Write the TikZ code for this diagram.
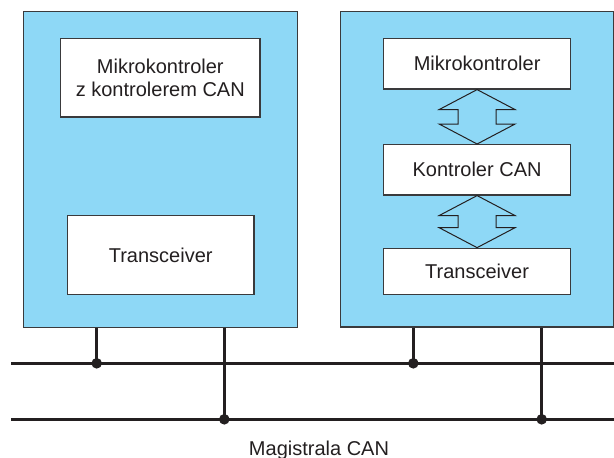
\documentclass[tikz,border=0pt]{standalone}
\usepackage{fontspec}
\setmainfont{Liberation Sans}
\usetikzlibrary{calc}
\definecolor{nodeblue}{HTML}{8ED8F6}
\definecolor{ink}{HTML}{231F20}
\definecolor{frame}{HTML}{3A3A3C}
\tikzset{
  unitbox/.style={draw=frame, line width=1.3pt, fill=nodeblue, rectangle, inner sep=0pt},
  blockbox/.style={draw=frame, line width=1.3pt, fill=white, rectangle, inner sep=0pt,
    text=ink, align=center, font=\fontsize{20}{23.5}\selectfont},
  arrowshape/.style={draw=ink, line width=1pt, fill=nodeblue, line join=miter},
  bus/.style={draw=ink, line width=3pt},
  tap/.style={draw=ink, line width=3pt},
  junction/.style={fill=ink},
}
% double-headed block arrow between two tips (upper, lower)
\newcommand\twowayarrow[2]{%
  \draw[arrowshape] (#1) -- ++(38,20) -- ++(-19,0) -- ($(#2)+(19,-20)$) -- ++(19,0)
    -- (#2) -- ++(-38,-20) -- ++(19,0) -- ($(#1)+(-19,20)$) -- ++(-19,0) -- cycle;}
\begin{document}
\begin{tikzpicture}[x=1pt, y=-1pt]
\useasboundingbox (0,0) rectangle (614,458);

% the two bus nodes
\node[unitbox, minimum width=274.2pt, minimum height=315.6pt] (left) at (160.4,169.5) {};
\node[unitbox, minimum width=273pt, minimum height=315.3pt] (right) at (476.8,169.4) {};

% left node: integrated controller and transceiver
\node[blockbox, minimum width=199.3pt, minimum height=78.3pt] (lmcu) at (160.3,77.8)
  {Mikrokontroler\\z kontrolerem CAN};
\node[blockbox, minimum width=186.7pt, minimum height=79pt] (ltr) at (160.7,255.2)
  {Transceiver};

% right node: separate microcontroller, CAN controller and transceiver
\node[blockbox, minimum width=186.8pt, minimum height=50.3pt] (rmcu) at (477.1,63.8)
  {Mikrokontroler};
\node[blockbox, minimum width=186.8pt, minimum height=50.3pt] (rcan) at (477.1,169.8)
  {Kontroler CAN};
\node[blockbox, minimum width=186.8pt, minimum height=46pt] (rtr) at (477.1,271.3)
  {Transceiver};

\twowayarrow{rmcu.south}{rcan.north}
\twowayarrow{rcan.south}{rtr.north}

% bus lines
\coordinate (hA) at (11,363.3);  \coordinate (hAe) at (614,363.3);
\coordinate (lA) at (11,419.3);  \coordinate (lAe) at (614,419.3);
\draw[bus] (hA) -- (hAe);
\draw[bus] (lA) -- (lAe);

% taps from the nodes down to the bus
\coordinate (j1) at (96.7,363.3);
\coordinate (j2) at (224.3,419.3);
\coordinate (j3) at (413.3,363.3);
\coordinate (j4) at (541.7,419.3);
\draw[tap] (j1 |- left.south) -- (j1);
\draw[tap] (j2 |- left.south) -- (j2);
\draw[tap] (j3 |- right.south) -- (j3);
\draw[tap] (j4 |- right.south) -- (j4);
\foreach \j in {j1,j2,j3,j4} \fill[junction] (\j) circle (5.3);

\node[text=ink, font=\fontsize{20}{24}\selectfont, anchor=base] (buslabel) at (319,455)
  {Magistrala CAN};
\end{tikzpicture}
\end{document}
